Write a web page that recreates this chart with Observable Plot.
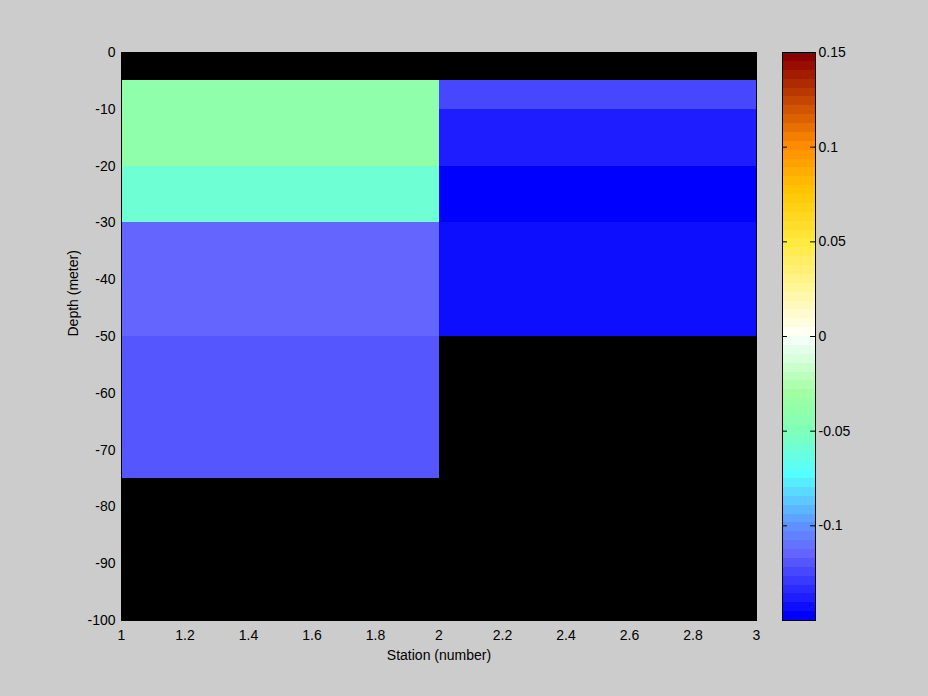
<!DOCTYPE html>
<html>
<head>
<meta charset="utf-8">
<script src="https://cdn.jsdelivr.net/npm/d3@7"></script>
<script src="https://cdn.jsdelivr.net/npm/@observablehq/plot@0.6"></script>
<style>
  html, body { margin: 0; padding: 0; background: #cccccc; }
  #wrap { position: relative; width: 928px; height: 696px; background: #cccccc; overflow: hidden; }
  #wrap svg { position: absolute; top: 0; }
</style>
</head>
<body>
<div id="wrap"></div>
<script>
// ---- Data ----
const cellStationStart = [1, 1, 1, 1, 2, 2, 2, 2];
const cellStationEnd   = [2, 2, 2, 2, 3, 3, 3, 3];
const cellDepthTop     = [-5, -20, -30, -50, -5, -10, -20, -30];
const cellDepthBottom  = [-20, -30, -50, -75, -10, -20, -30, -50];
const cellValues       = [-0.040, -0.059, -0.115, -0.120, -0.124, -0.138, -0.148, -0.143];

const xTicks = [1, 1.2, 1.4, 1.6, 1.8, 2, 2.2, 2.4, 2.6, 2.8, 3];
const yTicks = [0, -10, -20, -30, -40, -50, -60, -70, -80, -90, -100];
const cbTicks = [-0.1, -0.05, 0, 0.05, 0.1, 0.15];
const cbRange = [-0.15, 0.15];
const nBands = 64;

// colormap anchor colours (band index -> colour)
const cmapBands  = [0, 7, 10, 16, 21, 25, 31, 32, 42, 48, 53, 63];
const cmapColors = ["#0000ff", "#6464ff", "#6090ff", "#55ffff", "#80ffb8", "#a0ffa0",
                    "#f2fff6", "#fffff2", "#ffea40", "#ffc400", "#ff8c00", "#8b0000"];

// ---- Build discrete colormap ----
function bandColor(k) {
  for (let i = 0; i < cmapBands.length - 1; i++) {
    const a = cmapBands[i], b = cmapBands[i + 1];
    if (k >= a && k <= b) {
      return d3.rgb(d3.interpolateRgb(cmapColors[i], cmapColors[i + 1])((k - a) / (b - a))).formatHex();
    }
  }
  return cmapColors[cmapColors.length - 1];
}
const step = (cbRange[1] - cbRange[0]) / nBands;
const bandColors = d3.range(nBands).map(bandColor);
const thresholds = d3.range(1, nBands).map(k => cbRange[0] + k * step);
const colorScale = {type: "threshold", domain: thresholds, range: bandColors};

const cells = cellValues.map((v, i) => ({
  x1: cellStationStart[i], x2: cellStationEnd[i],
  y1: cellDepthTop[i], y2: cellDepthBottom[i], v
}));
const bands = d3.range(nBands).map(k => ({
  y1: cbRange[0] + k * step, y2: cbRange[0] + (k + 1) * step,
  v: cbRange[0] + (k + 0.5) * step
}));

const font = {background: "transparent", fontFamily: "'Liberation Sans', Arial, sans-serif", fontSize: "14px", color: "black"};

// ---- Main plot ----
const main = Plot.plot({
  width: 928, height: 696,
  marginLeft: 121, marginRight: 172, marginTop: 52, marginBottom: 76,
  style: font,
  x: {domain: [1, 3], ticks: xTicks, tickFormat: d => String(d), tickSize: 0, tickPadding: 10, label: null},
  y: {domain: [-100, 0], ticks: yTicks, tickFormat: d => String(d), tickSize: 0, tickPadding: 6, label: null},
  color: colorScale,
  marks: [
    Plot.frame({fill: "black"}),
    Plot.rect(cells, {x1: "x1", x2: "x2", y1: "y1", y2: "y2", fill: "v", shapeRendering: "crispEdges"}),
    Plot.frame({stroke: "black"}),
    Plot.text(["Station (number)"], {frameAnchor: "bottom", dy: 39, fontSize: 14}),
    Plot.text(["Depth (meter)"], {frameAnchor: "left", dx: -48, rotate: -90, fontSize: 14})
  ]
});
main.style.left = "0px";
document.getElementById("wrap").appendChild(main);

// ---- Colour bar ----
const cb = Plot.plot({
  width: 158, height: 696,
  marginLeft: 12, marginRight: 113, marginTop: 52, marginBottom: 76,
  style: font,
  x: {domain: [0, 1], axis: null},
  y: {domain: cbRange, ticks: cbTicks, tickFormat: d => String(d), tickSize: 0, tickPadding: 3, label: null, axis: "right"},
  color: colorScale,
  marks: [
    Plot.rect(bands, {x1: 0, x2: 1, y1: "y1", y2: "y2", fill: "v", shapeRendering: "crispEdges"}),
    Plot.ruleY(cbTicks.filter(t => t < cbRange[1]), {x1: 0, x2: 0.15, stroke: "black"}),
    Plot.ruleY(cbTicks.filter(t => t < cbRange[1]), {x1: 0.85, x2: 1, stroke: "black"}),
    Plot.frame({stroke: "black"})
  ]
});
cb.style.left = "770px";
document.getElementById("wrap").appendChild(cb);
</script>
</body>
</html>
